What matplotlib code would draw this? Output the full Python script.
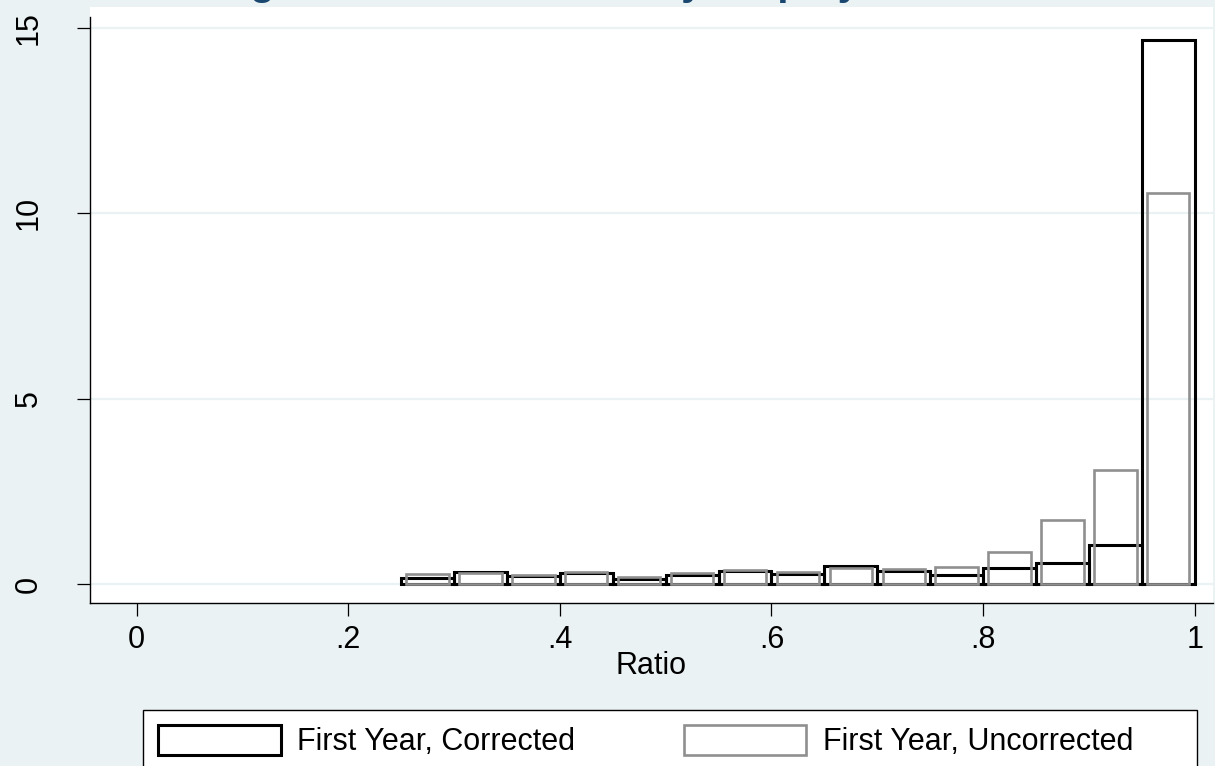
import matplotlib.pyplot as plt
from matplotlib.patches import Patch, Rectangle

plt.rcParams['font.family'] = ['Liberation Sans', 'DejaVu Sans']

# histogram densities, bins of width .05 starting at .25
bin_lefts = [0.25, 0.30, 0.35, 0.40, 0.45, 0.50, 0.55, 0.60,
             0.65, 0.70, 0.75, 0.80, 0.85, 0.90, 0.95]
corrected = [0.15, 0.33, 0.22, 0.30, 0.13, 0.24, 0.35, 0.28,
             0.49, 0.36, 0.24, 0.43, 0.57, 1.05, 14.67]
uncorrected = [0.27, 0.30, 0.24, 0.31, 0.20, 0.30, 0.38, 0.32,
               0.42, 0.40, 0.46, 0.86, 1.73, 3.08, 10.55]
bin_w = 0.05

xticks = [0, 0.2, 0.4, 0.6, 0.8, 1]
xticklabels = ['0', '.2', '.4', '.6', '.8', '1']
yticks = [0, 5, 10, 15]

titulo = 'Earnings Ratio Distribution by Employment Status'
rotulos = ['First Year, Corrected', 'First Year, Uncorrected']

bg = '#eaf2f3'
cinza = '#8f8f8f'

fig = plt.figure(figsize=(12.15, 7.66), dpi=100, facecolor=bg)
ax = fig.add_axes([90 / 1215, 1 - 603 / 766, 1123 / 1215, 596 / 766])
ax.set_facecolor('white')

centros = [b + bin_w / 2 for b in bin_lefts]
ax.bar(bin_lefts, corrected, width=bin_w, align='edge', fill=False,
       edgecolor='black', linewidth=2.2, zorder=3)
ax.bar(centros, uncorrected, width=0.04, align='center', fill=False,
       edgecolor=cinza, linewidth=1.9, zorder=4)

ax.set_xlim(-0.0441, 1.0173)
ax.set_ylim(-0.513, 15.565)
ax.set_xticks(xticks)
ax.set_xticklabels(xticklabels)
ax.set_yticks(yticks)
ax.set_yticklabels([str(t) for t in yticks], rotation=90, va='center')
ax.yaxis.grid(True, color=bg, linewidth=1.6, zorder=0)
ax.set_axisbelow(True)

for s in ['top', 'right']:
    ax.spines[s].set_visible(False)
for s in ['left', 'bottom']:
    ax.spines[s].set_linewidth(1.0)
ax.spines['left'].set_bounds(-0.513, 15.3)

ax.tick_params(axis='both', labelsize=22, length=9.4, width=0.9)
ax.tick_params(axis='x', pad=6.5)
ax.tick_params(axis='y', pad=24)
ax.set_xlabel('Ratio', fontsize=22, labelpad=-3)

fig.text(0.5, 1 + 5 / 766, titulo, ha='center', va='baseline',
         fontsize=29, fontweight='bold', color='#1a476f')

# legend box below the plot
fig.patches.append(Rectangle((143 / 1215, -0.05), (1197 - 143) / 1215,
                             0.05 + 1 - 710 / 766, transform=fig.transFigure,
                             facecolor='white', edgecolor='black', linewidth=1.0))
handles = [Patch(facecolor='white', edgecolor='black', linewidth=2.2),
           Patch(facecolor='white', edgecolor=cinza, linewidth=1.9)]
fig.legend(handles, rotulos, loc='upper left', ncol=2,
           bbox_to_anchor=(143 / 1215, 1 - 710 / 766), frameon=False,
           fontsize=22, handlelength=4.0, handleheight=1.1,
           handletextpad=0.55, columnspacing=3.55, borderpad=0.5,
           borderaxespad=0)

fig.savefig('out.png', dpi=100, facecolor=bg)
